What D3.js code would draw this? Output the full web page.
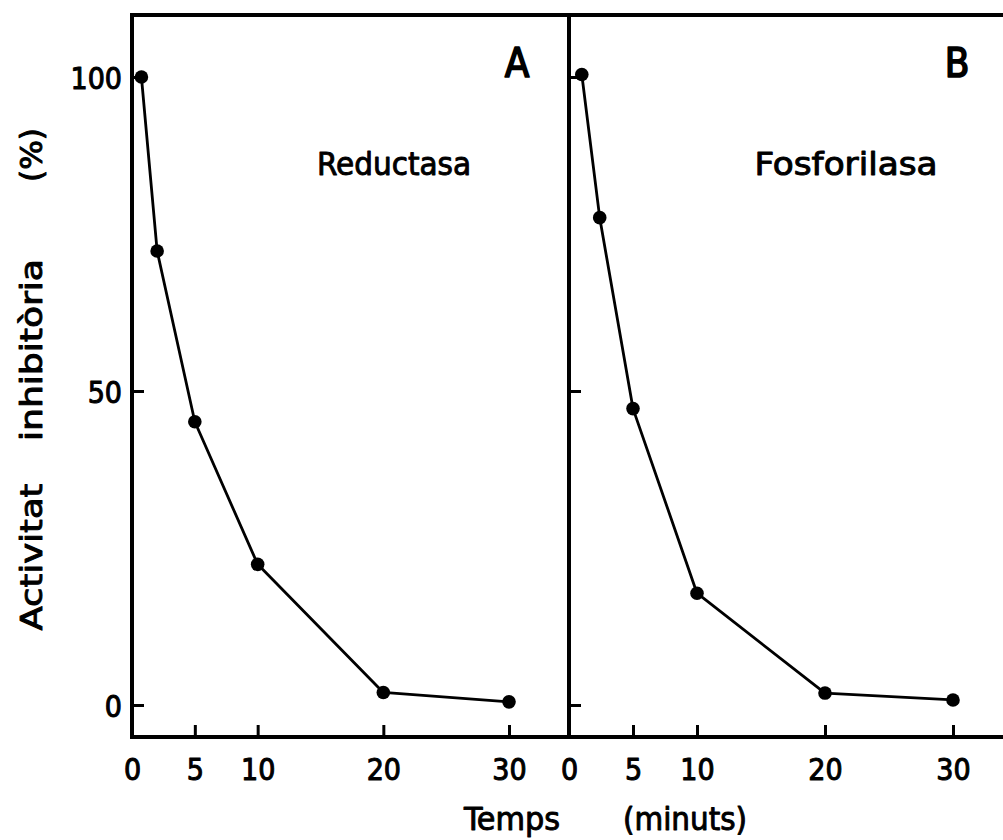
<!DOCTYPE html>
<html>
<head>
<meta charset="utf-8">
<script src="https://cdn.jsdelivr.net/npm/d3@7"></script>
<style>
  html, body { margin: 0; padding: 0; background: #fff; }
  svg text {
    font-family: "DejaVu Sans Condensed", "DejaVu Sans", sans-serif;
    fill: #000; stroke: #000; stroke-width: 0.9px; stroke-linejoin: round;
  }
</style>
</head>
<body>
<svg id="chart" width="1003" height="840"></svg>
<script>
// Inhibitory activity (%) against time (minutes), two enzymes
const timesA  = [0.75, 2, 5, 10, 20, 30];
const valuesA = [100, 72.3, 45.1, 22.4, 2.0, 0.5];
const timesB  = [1, 2.4, 5, 10, 20, 30];
const valuesB = [100.4, 77.6, 47.2, 17.8, 1.9, 0.8];

const xTicks = [0, 5, 10, 20, 30];
const yTicks = [0, 50, 100];

const panelLetters = ["A", "B"];
const panelNames   = ["Reductasa", "Fosforilasa"];
const xTitleParts  = ["Temps", "(minuts)"];
const yTitleParts  = ["Activitat", "inhibitòria", "(%)"];

const svg = d3.select("#chart");

const frameTop = 15, frameBottom = 737;
const y = d3.scaleLinear().domain([0, 100]).range([705, 77]);

const panels = [
  { left: 132, right: 569,  x: d3.scaleLinear().domain([0, 30]).range([132, 509]),
    times: timesA, values: valuesA, letter: panelLetters[0], name: panelNames[0],
    letterX: 517, nameX: 394, nameLen: 154, yLabels: true },
  { left: 569, right: 1012, x: d3.scaleLinear().domain([0, 30]).range([569, 953]),
    times: timesB, values: valuesB, letter: panelLetters[1], name: panelNames[1],
    letterX: 957, nameX: 846, nameLen: 183, yLabels: false }
];

function styleTickText(sel) {
  sel.attr("font-size", 30)
    .style("font-family", '"DejaVu Sans Condensed", "DejaVu Sans", sans-serif')
    .style("fill", "#000").style("stroke", "#000").style("stroke-width", "1px");
}

panels.forEach(p => {
  const g = svg.append("g");

  // axes (ticks point inward)
  const xAxis = d3.axisBottom(p.x).tickValues(xTicks).tickSize(-12).tickSizeOuter(0);
  const gx = g.append("g").attr("transform", `translate(0,${frameBottom})`).call(xAxis);
  gx.select(".domain").remove();
  gx.selectAll(".tick line").attr("stroke", "#000").attr("stroke-width", 3);
  gx.selectAll(".tick text").attr("y", 43).attr("dy", null).call(styleTickText);

  const yAxis = d3.axisLeft(y).tickValues(yTicks).tickSize(-12).tickPadding(10);
  if (!p.yLabels) yAxis.tickFormat("");
  const gy = g.append("g").attr("transform", `translate(${p.left},0)`).call(yAxis);
  gy.select(".domain").remove();
  gy.selectAll(".tick line").attr("stroke", "#000").attr("stroke-width", 3);
  gy.selectAll(".tick text").attr("dy", "0.37em").call(styleTickText);

  // panel frame
  g.append("rect")
    .attr("x", p.left).attr("y", frameTop)
    .attr("width", p.right - p.left).attr("height", frameBottom - frameTop)
    .attr("fill", "none").attr("stroke", "#000").attr("stroke-width", 4);

  // decay curve
  const pts = p.times.map((t, i) => ({ t, v: p.values[i] }));
  const line = d3.line().x(d => p.x(d.t)).y(d => y(d.v));
  g.append("path").datum(pts)
    .attr("d", line)
    .attr("fill", "none").attr("stroke", "#000")
    .attr("stroke-width", 2.8).attr("stroke-linejoin", "round");
  g.selectAll("circle.pt").data(pts).join("circle")
    .attr("class", "pt")
    .attr("cx", d => p.x(d.t)).attr("cy", d => y(d.v))
    .attr("r", 6.8).attr("fill", "#000");

  // panel letter and enzyme name
  g.append("text")
    .attr("x", p.letterX).attr("y", 77)
    .attr("text-anchor", "middle")
    .attr("font-size", 40)
    .style("stroke-width", "1.6px")
    .text(p.letter);
  g.append("text")
    .attr("x", p.nameX).attr("y", 175)
    .attr("text-anchor", "middle")
    .attr("font-size", 32)
    .attr("textLength", p.nameLen).attr("lengthAdjust", "spacingAndGlyphs")
    .text(p.name);
});

// x-axis title
svg.append("text").attr("x", 512).attr("y", 830).attr("text-anchor", "middle")
  .attr("font-size", 32).attr("textLength", 96).attr("lengthAdjust", "spacingAndGlyphs")
  .text(xTitleParts[0]);
svg.append("text").attr("x", 685).attr("y", 830).attr("text-anchor", "middle")
  .attr("font-size", 32).attr("textLength", 124).attr("lengthAdjust", "spacingAndGlyphs")
  .text(xTitleParts[1]);

// y-axis title (rotated)
const yTitlePos = [{ c: 557, len: 147 }, { c: 350, len: 182 }, { c: 155, len: 54 }];
yTitleParts.forEach((s, i) => {
  svg.append("text")
    .attr("transform", `translate(42,${yTitlePos[i].c}) rotate(-90)`)
    .attr("text-anchor", "middle")
    .attr("font-size", 31)
    .attr("textLength", yTitlePos[i].len).attr("lengthAdjust", "spacingAndGlyphs")
    .text(s);
});
</script>
</body>
</html>
